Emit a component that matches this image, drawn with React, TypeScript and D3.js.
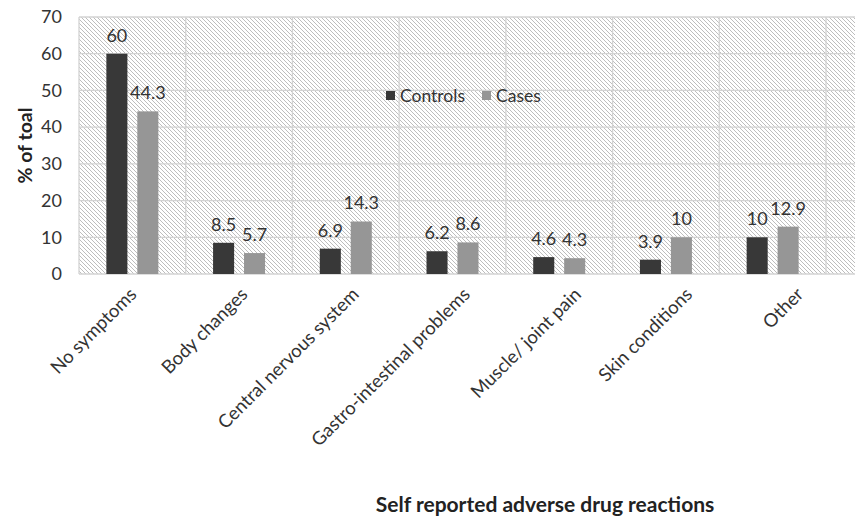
import React from "react";
import * as d3 from "d3";

const categories = [
  "No symptoms",
  "Body changes",
  "Central nervous system",
  "Gastro-intestinal problems",
  "Muscle/ joint pain",
  "Skin conditions",
  "Other",
];
const seriesNames = ["Controls", "Cases"];
const controls = [60, 8.5, 6.9, 6.2, 4.6, 3.9, 10];
const cases = [44.3, 5.7, 14.3, 8.6, 4.3, 10, 12.9];
const yTicks = [0, 10, 20, 30, 40, 50, 60, 70];
const colors = ["#383838", "#969696"];

const W = 855;
const H = 518;
const left = 79;
const right = 826;
const top = 17;
const bottom = 274;
const font = "Lato, 'Open Sans', sans-serif";

export default function App() {
  const x = d3.scaleBand<string>().domain(categories).range([left, right]).paddingInner(0).paddingOuter(0);
  const labelX = d3.scalePoint<string>().domain(categories).range([133, 800]);
  const y = d3.scaleLinear().domain([0, 70]).range([bottom, top]);
  const x1 = d3.scaleBand<string>().domain(seriesNames).range([-26, 26]).paddingInner(0.32).paddingOuter(0);
  const data = [controls, cases];
  const boundaries = categories.map((c) => x(c) as number).concat([right]);

  return (
    <svg width={W} height={H} style={{ position: "absolute", left: 0, top: 0, background: "#fff" }}>
      <defs>
        <pattern id="hatch" width="4" height="4" patternUnits="userSpaceOnUse">
          <rect width="4" height="4" fill="#ffffff" />
          <path d="M0,0 L4,4 M-1,3 L1,5 M3,-1 L5,1" stroke="#bdbdbd" strokeWidth="1" />
        </pattern>
      </defs>
      <rect x={left} y={top} width={W - left} height={bottom - top} fill="url(#hatch)" />
      {yTicks.map((t) => (
        <line key={"g" + t} x1={left} x2={W} y1={y(t)} y2={y(t)} stroke="#d3d3d3" strokeWidth={1.3} />
      ))}
      {boundaries.map((b, i) => (
        <line key={"v" + i} x1={b} x2={b} y1={top} y2={bottom} stroke="#d3d3d3" strokeWidth={1.3} />
      ))}
      {yTicks.map((t) => (
        <text key={"t" + t} x={62} y={y(t)} dy="0.35em" textAnchor="end" fontSize={18} fill="#333" fontFamily={font}>
          {t}
        </text>
      ))}
      <text
        transform={`translate(25,${(top + bottom) / 2}) rotate(-90)`}
        textAnchor="middle"
        dy="0.35em"
        fontSize={19.5}
        fontWeight="bold"
        fill="#222"
        fontFamily={font}
      >
        % of toal
      </text>
      {categories.map((c, i) => {
        const cx = (x(c) as number) + x.bandwidth() / 2;
        return (
          <g key={c}>
            {seriesNames.map((s, j) => {
              const v = data[j][i];
              const bx = cx + (x1(s) as number);
              return (
                <g key={s}>
                  <rect x={bx} y={y(v)} width={x1.bandwidth()} height={bottom - y(v)} fill={colors[j]} />
                  <text
                    x={bx + x1.bandwidth() / 2}
                    y={y(v) - 12}
                    textAnchor="middle"
                    fontSize={18}
                    fill="#333"
                    fontFamily={font}
                  >
                    {v}
                  </text>
                </g>
              );
            })}
            <text
              transform={`translate(${labelX(c)},${bottom + 17}) rotate(-45)`}
              textAnchor="end"
              dy="0.35em"
              fontSize={18.5}
              fill="#333"
              fontFamily={font}
            >
              {c}
            </text>
          </g>
        );
      })}
      <g fontFamily={font} fontSize={17.5} fill="#333">
        <rect x={386} y={91} width={9} height={9} fill={colors[0]} />
        <text x={400} y={96} dy="0.35em">Controls</text>
        <rect x={482} y={91} width={9} height={9} fill={colors[1]} />
        <text x={496} y={96} dy="0.35em">Cases</text>
      </g>
      <text x={545} y={512} textAnchor="middle" fontSize={21} fontWeight="bold" fill="#222" fontFamily={font}>
        Self reported adverse drug reactions
      </text>
    </svg>
  );
}
